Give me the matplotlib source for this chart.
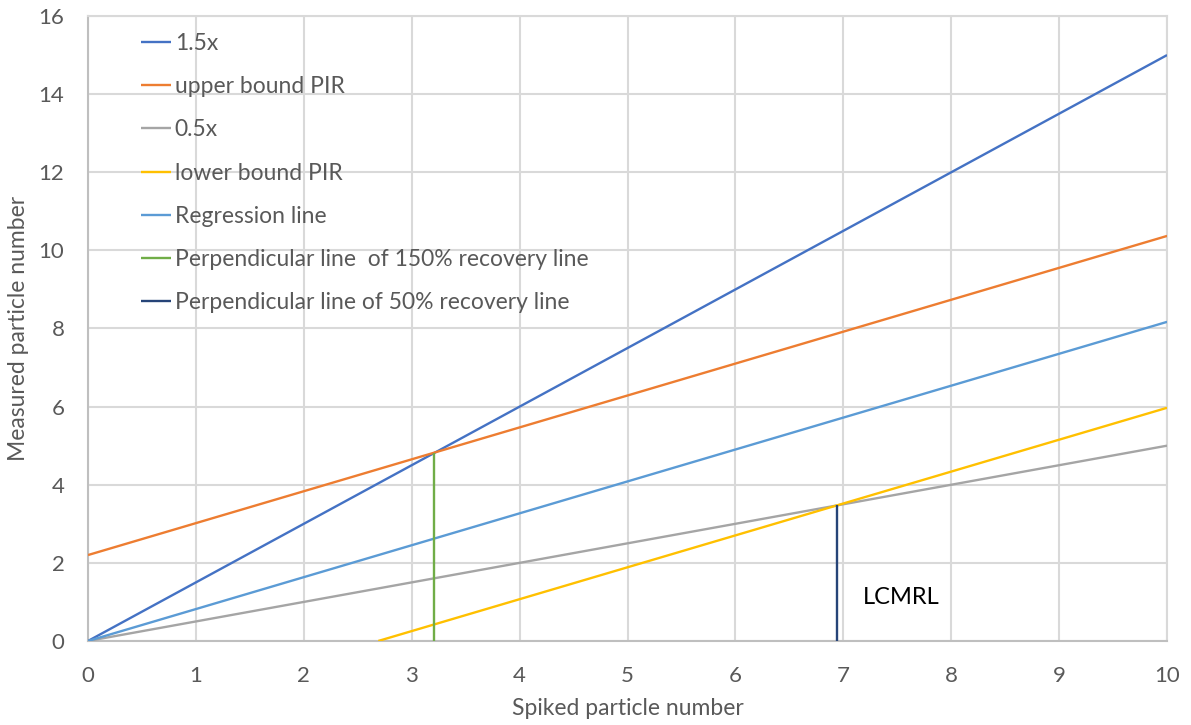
import matplotlib.pyplot as plt

plt.rcParams['font.family'] = ['Lato', 'DejaVu Sans']

# line end points
x_diag = [0, 10]
y_150 = [0, 15]
y_upper = [2.2, 10.37]
y_050 = [0, 5]
x_lower = [2.69, 10]
y_lower = [0, 5.97]
y_reg = [0, 8.17]
x_perp150 = [3.21, 3.21]
y_perp150 = [0, 4.82]
x_perp50 = [6.94, 6.94]
y_perp50 = [0, 3.48]

labels = ['1.5x', 'upper bound PIR', '0.5x', 'lower bound PIR', 'Regression line',
          'Perpendicular line  of 150% recovery line', 'Perpendicular line of 50% recovery line']
colors = ['#4472C4', '#ED7D31', '#A5A5A5', '#FFC000', '#5B9BD5', '#70AD47', '#264478']

fig = plt.figure(figsize=(11.91, 7.25), dpi=100)
ax = fig.add_axes([0.0739, 0.1159, 0.906, 0.862])

series = [(x_diag, y_150), (x_diag, y_upper), (x_diag, y_050), (x_lower, y_lower),
          (x_diag, y_reg), (x_perp150, y_perp150), (x_perp50, y_perp50)]
for (xs, ys), lab, c in zip(series, labels, colors):
    ax.plot(xs, ys, color=c, linewidth=1.7, label=lab, solid_capstyle='butt', zorder=3)

ax.text(7.18, 1.12, 'LCMRL', fontsize=17, color='black', va='center', ha='left')

ax.set_xlim(0, 10)
ax.set_ylim(0, 16)
ax.set_xticks(range(0, 11))
ax.set_yticks(range(0, 17, 2))
ax.grid(True, color='#d9d9d9', linewidth=1.5, zorder=0)
ax.set_axisbelow(True)
for s in ax.spines.values():
    s.set_color('#d9d9d9')
    s.set_linewidth(1.5)
ax.spines['bottom'].set_color('#bfbfbf')
ax.spines['left'].set_color('#bfbfbf')
ax.tick_params(length=0, labelsize=16, colors='#595959')
ax.tick_params(axis='x', pad=18)
ax.tick_params(axis='y', pad=17)

ax.set_xlabel('Spiked particle number', fontsize=16.5, color='#595959', labelpad=9)
ax.set_ylabel('Measured particle number', fontsize=16.5, color='#595959', labelpad=7)

ax.legend(loc='upper left', bbox_to_anchor=(141 / 1191, 1 - 33 / 725),
          bbox_transform=fig.transFigure, borderaxespad=0, borderpad=0,
          frameon=False, fontsize=16.5, handlelength=1.3, handletextpad=0.17,
          labelspacing=0.97, labelcolor='#595959')

fig.savefig('out.png', dpi=100)
